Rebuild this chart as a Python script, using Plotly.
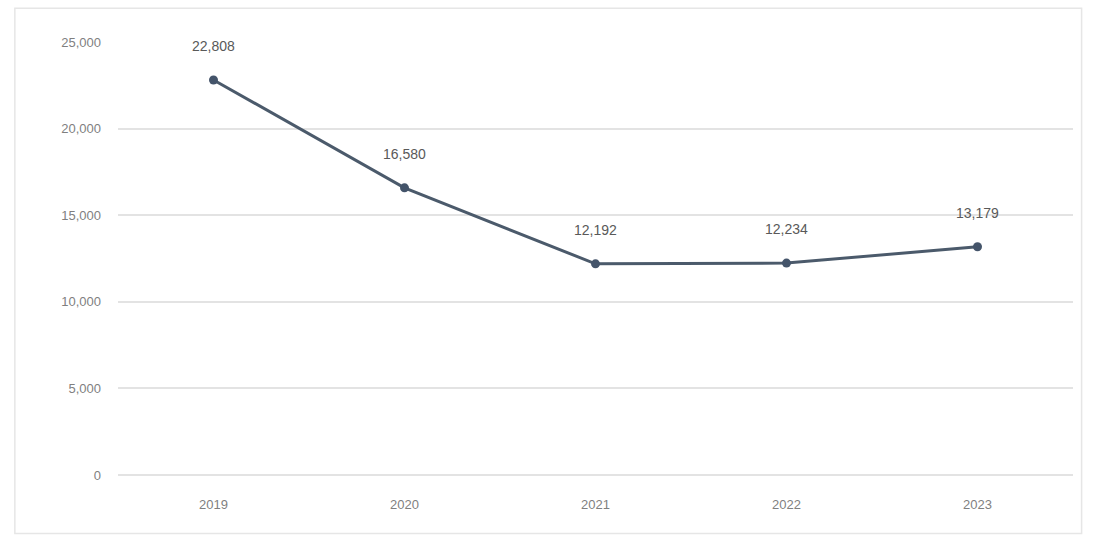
import plotly.graph_objects as go

years = ["2019", "2020", "2021", "2022", "2023"]
values = [22808, 16580, 12192, 12234, 13179]
y_ticks = [0, 5000, 10000, 15000, 20000, 25000]
y_tick_labels = ["0", "5,000", "10,000", "15,000", "20,000", "25,000"]

fig = go.Figure()
fig.add_trace(go.Scatter(
    x=years, y=values,
    mode="lines+markers",
    line=dict(color="#4b5a6b", width=3),
    marker=dict(color="#44546a", size=9),
    hoverinfo="skip",
))
annotations = []
for i, v in enumerate(values):
    annotations.append(dict(x=i, y=v, xref="x", yref="y", text=f"{v:,}", showarrow=False,
                            yshift=34, xanchor="center", yanchor="middle",
                            font=dict(family="Liberation Sans, Arial", size=14, color="#595959")))
fig.update_layout(
    width=1094, height=535,
    margin=dict(l=118, r=21, t=42, b=60),
    paper_bgcolor="white", plot_bgcolor="white",
    showlegend=False,
    font=dict(family="Liberation Sans, Arial", size=13, color="#7f7f7f"),
    annotations=annotations,
)
fig.update_xaxes(type="category", range=[-0.5, 4.5], showgrid=False, zeroline=False, showline=False,
                 ticks="", ticklabelstandoff=20, tickfont=dict(size=13, color="#7f7f7f"))
fig.update_yaxes(range=[0, 25000], tickvals=y_ticks, ticktext=y_tick_labels,
                 showgrid=True, gridcolor="#e3e3e3", gridwidth=2,
                 zeroline=True, zerolinecolor="#e3e3e3", zerolinewidth=2,
                 showline=False, ticks="",
                 ticklabelstandoff=16,
                 tickfont=dict(size=13, color="#7f7f7f"))
fig.add_shape(type="rect", xref="paper", yref="paper", x0=-0.108, x1=1.009, y0=-0.135, y1=1.078,
              line=dict(color="#e6e6e6", width=1.5))
fig.write_html("out.html")
